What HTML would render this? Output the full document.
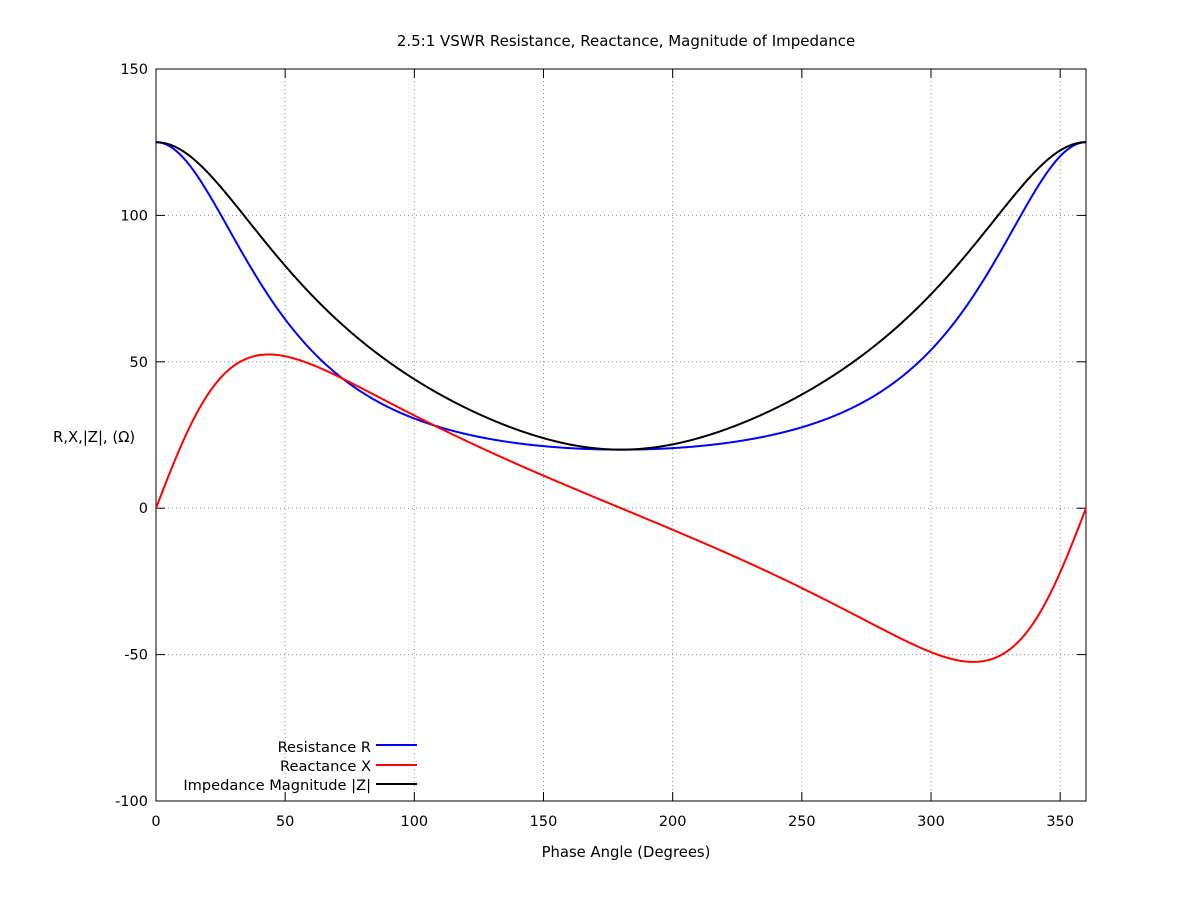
<!DOCTYPE html>
<html><head><meta charset="utf-8"><style>
html,body{margin:0;padding:0;background:#fff;}
svg{display:block;font-family:"DejaVu Sans","Liberation Sans",sans-serif;}
</style></head><body>
<svg id="s" width="1200" height="900" xmlns="http://www.w3.org/2000/svg">
<rect width="1200" height="900" fill="#fff"/>
<g id="grid" stroke="#909090" stroke-width="1" stroke-dasharray="1,3"></g>
<rect x="156" y="69" width="930" height="732" fill="none" stroke="#000" stroke-width="1"/>
<g id="ticks" stroke="#000" stroke-width="1"></g>
<g id="labels" font-size="14.5" fill="#000"></g>
<text x="626" y="46" font-size="15" text-anchor="middle">2.5:1 VSWR Resistance, Reactance, Magnitude of Impedance</text>
<text x="626" y="857" font-size="14.8" text-anchor="middle">Phase Angle (Degrees)</text>
<text x="53" y="442" font-size="14.8">R,X,|Z|, (Ω)</text>
<g font-size="14.6" text-anchor="end">
<text x="371" y="752">Resistance R</text>
<text x="371" y="771">Reactance X</text>
<text x="371" y="790">Impedance Magnitude |Z|</text>
</g>
<line x1="376" y1="745" x2="417" y2="745" stroke="#0000ff" stroke-width="2"/>
<line x1="376" y1="765" x2="417" y2="765" stroke="#ff0000" stroke-width="2"/>
<line x1="376" y1="784" x2="417" y2="784" stroke="#000" stroke-width="2"/>
<path id="pR" fill="none" stroke="#0000ff" stroke-width="2"/>
<path id="pX" fill="none" stroke="#ff0000" stroke-width="2"/>
<path id="pZ" fill="none" stroke="#000" stroke-width="2"/>
</svg>
<script>
(function(){
var NS="http://www.w3.org/2000/svg";
function X(d){return 156+d*930/360;}
function Y(v){return 69+(150-v)*732/250;}
var g=document.getElementById("grid"),t=document.getElementById("ticks"),l=document.getElementById("labels");
function el(p,tag,a,txt){var e=document.createElementNS(NS,tag);for(var k in a)e.setAttribute(k,a[k]);if(txt!==undefined)e.textContent=txt;p.appendChild(e);}
for(var d=0;d<=350;d+=50){var x=X(d);
 if(d>0)el(g,"line",{x1:x,y1:69,x2:x,y2:801});
 el(t,"line",{x1:x,y1:801,x2:x,y2:792});el(t,"line",{x1:x,y1:69,x2:x,y2:78});
 el(l,"text",{x:x,y:826,"text-anchor":"middle"},String(d));}
for(var v=-100;v<=150;v+=50){var y=Y(v);
 if(v>-100&&v<150)el(g,"line",{x1:156,y1:y,x2:1086,y2:y});
 el(t,"line",{x1:156,y1:y,x2:165,y2:y});el(t,"line",{x1:1086,y1:y,x2:1077,y2:y});
 el(l,"text",{x:148,y:y+5,"text-anchor":"end"},String(v));}
var G=1.5/3.5,R="",Xs="",Z="";
for(var i=0;i<=720;i++){var d=i/2,th=d*Math.PI/180;
 var gr=G*Math.cos(th),gi=G*Math.sin(th);
 var nr=1+gr,ni=gi,dr=1-gr,di=-gi,den=dr*dr+di*di;
 var zr=50*(nr*dr+ni*di)/den,zi=50*(ni*dr-nr*di)/den,zm=Math.sqrt(zr*zr+zi*zi);
 var c=i?"L":"M",x=X(d).toFixed(2);
 R+=c+x+","+Y(zr).toFixed(2);Xs+=c+x+","+Y(zi).toFixed(2);Z+=c+x+","+Y(zm).toFixed(2);}
document.getElementById("pR").setAttribute("d",R);
document.getElementById("pX").setAttribute("d",Xs);
document.getElementById("pZ").setAttribute("d",Z);
})();
</script>
</body></html>
